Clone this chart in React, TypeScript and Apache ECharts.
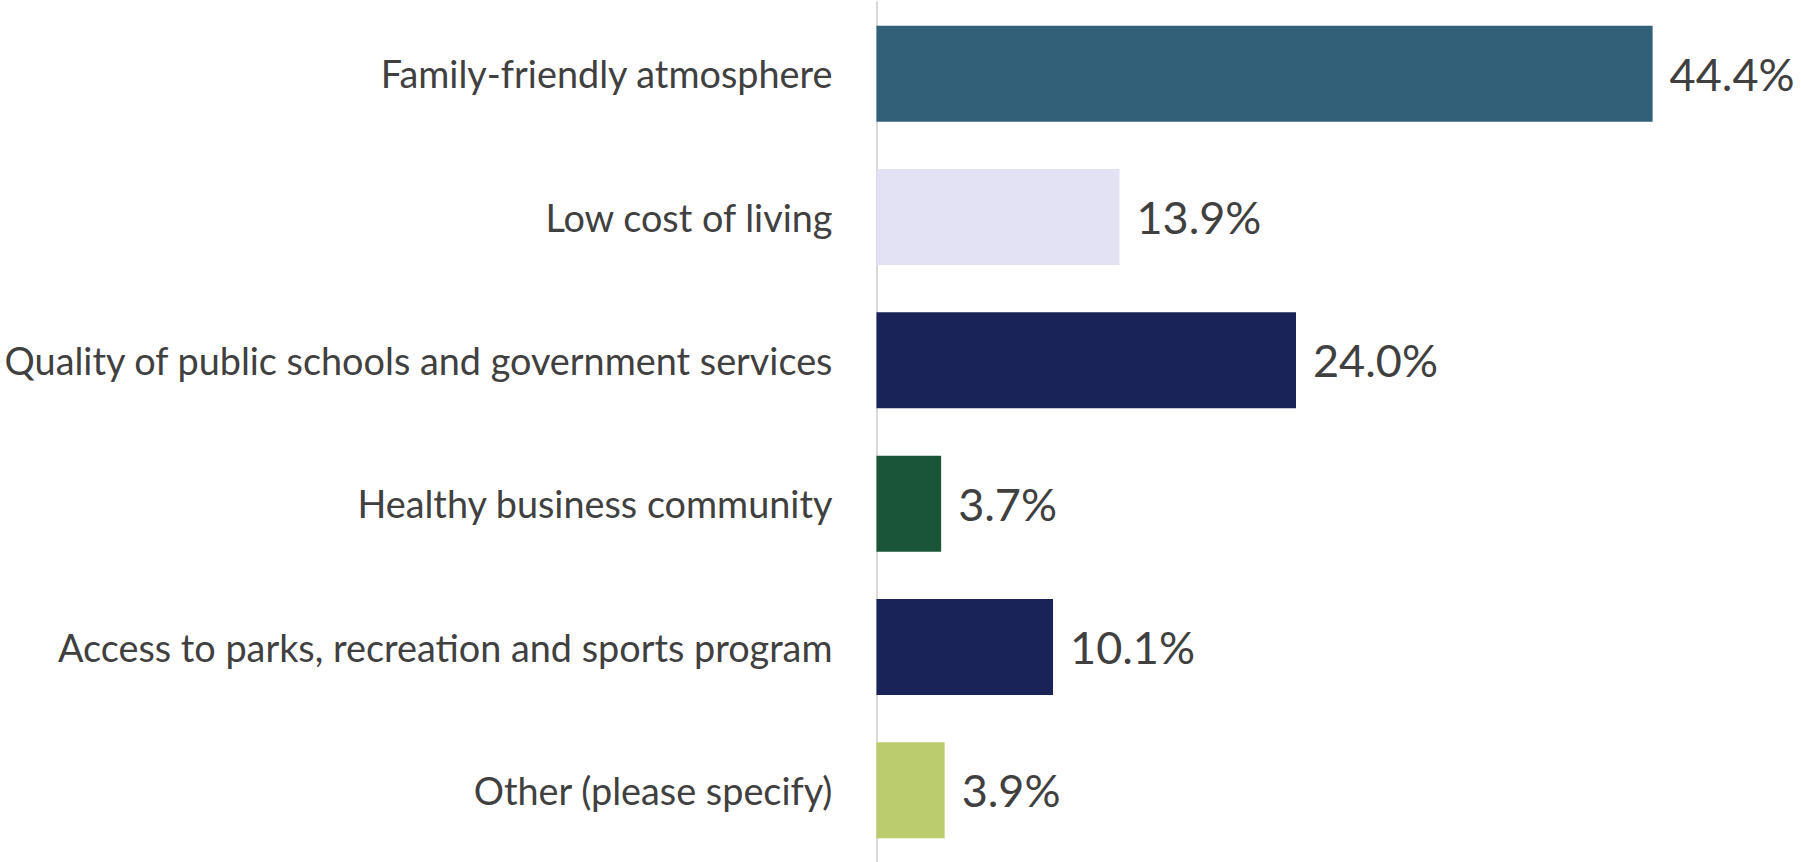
import React, { useEffect, useRef } from "react";
import * as echarts from "echarts";

const categories = [
  "Family-friendly atmosphere",
  "Low cost of living",
  "Quality of public schools and government services",
  "Healthy business community",
  "Access to parks, recreation and sports program",
  "Other (please specify)",
];
const values = [44.4, 13.9, 24.0, 3.7, 10.1, 3.9];
const barColors = ["#336079", "#E3E1F4", "#1A2358", "#1B5538", "#1A2358", "#BBCC6E"];

const FONT = "Lato";
const TEXT = "#404040";

export default function App() {
  const ref = useRef<HTMLDivElement>(null);
  useEffect(() => {
    if (!ref.current) return;
    const chart = echarts.init(ref.current, undefined, { renderer: "svg" });
    chart.setOption({
      animation: false,
      backgroundColor: "#ffffff",
      grid: { left: 871, top: 2, height: 862, right: 50.5, containLabel: false },
      xAxis: {
        type: "value",
        min: 0,
        max: 50,
        show: false,
      },
      yAxis: {
        type: "category",
        data: categories,
        inverse: true,
        offset: 1,
        axisLine: { show: true, lineStyle: { color: "#D9D9D9", width: 2 } },
        axisTick: { show: false },
        splitLine: { show: false },
        axisLabel: {
          margin: 43,
          color: TEXT,
          fontFamily: FONT,
          fontSize: 37.8,
        },
      },
      series: [
        {
          type: "bar",
          barWidth: 96,
          data: values.map((v, i) => ({ value: v, itemStyle: { color: barColors[i] } })),
          label: {
            show: true,
            position: "right",
            distance: 17,
            color: TEXT,
            fontFamily: FONT,
            fontSize: 45,
            formatter: (p: any) => Number(p.value).toFixed(1) + "%",
          },
        },
      ],
    });
    return () => chart.dispose();
  }, []);
  return (
    <div
      ref={ref}
      style={{ position: "fixed", left: 0, top: 0, width: 1801, height: 862 }}
    />
  );
}
